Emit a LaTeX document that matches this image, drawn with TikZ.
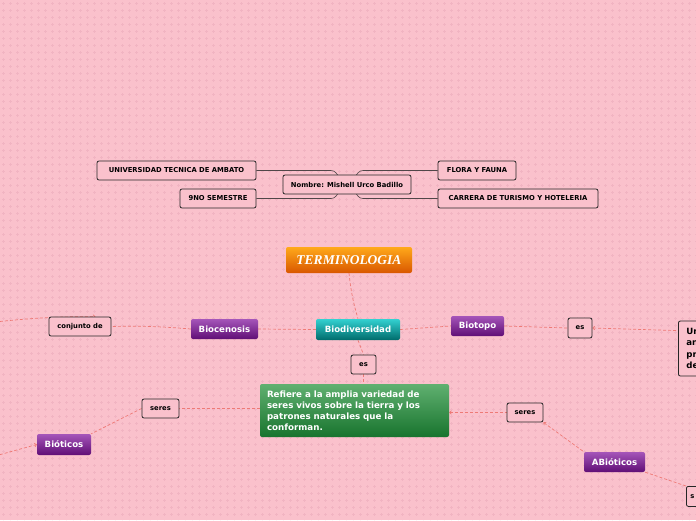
\documentclass[tikz,border=0pt]{standalone}
\usepackage{fontspec}
\setmainfont{DejaVu Sans}
\newfontfamily\titlefont{Liberation Serif}
\usetikzlibrary{arrows.meta, backgrounds}
\definecolor{bgpink}{RGB}{250,193,204}
\definecolor{crosspink}{RGB}{241,180,194}
\definecolor{linkred}{RGB}{238,122,118}
\definecolor{trunkgray}{RGB}{80,70,72}
\definecolor{greentop}{RGB}{96,176,112}
\definecolor{greenbot}{RGB}{24,116,46}
\definecolor{purptop}{RGB}{165,85,185}
\definecolor{purpbot}{RGB}{96,14,118}

\begin{document}
\begin{tikzpicture}[x=1pt, y=-1pt,
    plain/.style={rectangle, draw=black!85, line width=0.8pt, rounded corners=2pt, fill=bgpink,
                  inner sep=1pt, minimum height=19pt, font=\bfseries\fontsize{6.8}{8}\selectfont},
    tagbox/.style={plain, font=\bfseries\fontsize{6.8}{8}\selectfont},
    topic/.style={rectangle, rounded corners=2pt, text=white, inner sep=1pt,
                  minimum height=20pt, font=\bfseries\fontsize{8.6}{10}\selectfont},
    subtopic/.style={topic, top color=purptop, bottom color=purpbot},
    link/.style={draw=linkred, line width=0.7pt, dash pattern=on 3pt off 2pt},
    tip/.style={-{To[length=2.5pt,width=4pt]}},
    trunk/.style={draw=trunkgray, line width=0.6pt}
]
\useasboundingbox (0,0) rectangle (696,520);
\clip (0,0) rectangle (696,520);

% header boxes
\node[plain, minimum width=159pt] (univ) at (176.5,170.5) {UNIVERSIDAD TECNICA DE AMBATO};
\node[plain, minimum width=76pt] (semestre) at (218,198.5) {9NO SEMESTRE};
\node[plain, minimum width=128pt] (nombre) at (347,184.5) {Nombre: Mishell Urco Badillo};
\node[plain, minimum width=78pt] (flora) at (477,170.5) {FLORA Y FAUNA};
\node[plain, minimum width=160pt] (carrera) at (518,198.5) {CARRERA DE TURISMO Y HOTELERIA};

% main topics
\node[rectangle, rounded corners=2pt, top color=orange!75!yellow!90, bottom color=orange!80!red!85!black,
      minimum width=126pt, minimum height=26pt, text=white,
      font=\titlefont\bfseries\itshape\fontsize{13.5}{15}\selectfont] (termino) at (349,260) {TERMINOLOGIA};
\node[topic, top color=cyan!55!teal!80, bottom color=teal!80!cyan!70!black, minimum width=84pt, minimum height=21pt]
      (biodiv) at (358,329.5) {Biodiversidad};
\node[subtopic, minimum width=67pt] (biocen) at (224.5,329) {Biocenosis};
\node[subtopic, minimum width=53pt] (biotopo) at (477.5,326) {Biotopo};
\node[subtopic, minimum width=54pt, minimum height=21pt] (bioticos) at (64,444.5) {Bióticos};
\node[subtopic, minimum width=61pt] (abioticos) at (614.5,462) {ABióticos};
\node[topic, top color=greentop, bottom color=greenbot, text width=175pt, inner xsep=7pt,
      minimum height=53pt, align=left, font=\bfseries\fontsize{8.7}{11}\selectfont] (refiere) at (354.5,410.5)
      {Refiere a la amplia variedad de\\seres vivos sobre la tierra y los\\patrones naturales que la\\conforman.};

% small link boxes
\node[tagbox, minimum width=62pt] (conjunto) at (80,326.5) {conjunto de};
\node[tagbox, minimum width=24pt, minimum height=20pt] (esbiotopo) at (580,328) {es};
\node[tagbox, minimum width=25pt] (esbiodiv) at (363.5,364.5) {es};
\node[tagbox, minimum width=37pt] (seresbio) at (160.5,408.5) {seres};
\node[tagbox, minimum width=36pt] (seresabio) at (525,412.5) {seres};
\node[tagbox, anchor=west, text width=62pt, inner xsep=8pt, minimum height=55pt, align=left,
      font=\bfseries\fontsize{8.6}{11.5}\selectfont] (espacio) at (678,348.5) {Un\\an\\pr\\de};
\node[tagbox, anchor=north west, text width=30pt, inner xsep=4pt, minimum height=20pt, align=left] (sabio) at (686,486) {s};

\coordinate (offconj) at (-5,322);
\coordinate (offbiot) at (-5,456);

\begin{scope}[on background layer]
\fill[bgpink] (0,0) rectangle (696,520);
\foreach \r in {3.5,10.5,...,520} {
    \draw[crosspink, line width=0.5pt, dash pattern=on 3pt off 4pt, dash phase=5pt] (0,\r) -- (696,\r);
}
\foreach \c in {3.5,10.5,...,696} {
    \draw[crosspink, line width=0.5pt, dash pattern=on 3pt off 4pt, dash phase=5pt] (\c,0) -- (\c,520);
}

\draw[trunk] (univ.east) -- ([xshift=-16pt]univ.east -| nombre.center) to[out=0, in=180] (nombre.center);
\draw[trunk] (semestre.east) -- ([xshift=-16pt]semestre.east -| nombre.center) to[out=0, in=180] (nombre.center);
\draw[trunk] (flora.west) -- ([xshift=16pt]flora.west -| nombre.center) to[out=180, in=0] (nombre.center);
\draw[trunk] (carrera.west) -- ([xshift=16pt]carrera.west -| nombre.center) to[out=180, in=0] (nombre.center);

\draw[link] (termino.south) to[bend right=5] (biodiv.north);
\draw[link] (biodiv.west) -- (biocen.east);
\draw[link] (biocen.west) to[bend right=3] (conjunto.east);
\draw[link, tip] (offconj) to[bend left=3] ([xshift=-16pt]conjunto.north east);
\draw[link] (biodiv.east) -- (biotopo.west);
\draw[link] (biotopo.east) -- (esbiotopo.west);
\draw[link, tip, {To[length=2.5pt,width=4pt]}-] (esbiotopo.east) -- ([yshift=-10pt]espacio.north west);
\draw[link] (biodiv.south) -- (esbiodiv.north);
\draw[link] (esbiodiv.south) -- (esbiodiv.south |- refiere.north);
\draw[link] (refiere.west |- seresbio.east) -- (seresbio.east);
\draw[link] (seresbio.west) -- (bioticos.north east);
\draw[link, tip] (offbiot) -- (bioticos.west);
\draw[link, tip, {To[length=2.5pt,width=4pt]}-] (refiere.east |- seresabio.west) -- (seresabio.west);
\draw[link, tip, {To[length=2.5pt,width=4pt]}-] (seresabio.south east) -- (abioticos.north west);
\draw[link] (abioticos.south east) -- (sabio.north west);
\end{scope}
\end{tikzpicture}
\end{document}
